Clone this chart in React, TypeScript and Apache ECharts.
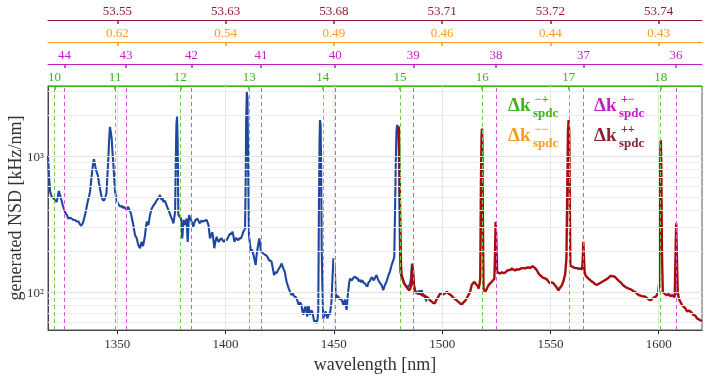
import React, { useEffect, useRef } from "react";
import * as echarts from "echarts";

const X_MIN = 1318;
const X_MAX = 1620;
const Y_MIN = 52.6;
const Y_MAX = 3273;

const xTicks = [1350, 1400, 1450, 1500, 1550, 1600];
const topRedLabels = ["53.55", "53.63", "53.68", "53.71", "53.72", "53.74"];
const topOrangeLabels = ["0.62", "0.54", "0.49", "0.46", "0.44", "0.43"];
const greenWavelengths = [1321.0, 1349.0, 1379.1, 1410.9, 1444.9, 1480.6, 1518.5, 1558.5, 1600.9];
const greenOrders = [10, 11, 12, 13, 14, 15, 16, 17, 18];
const magentaWavelengths = [1325.6, 1354.0, 1384.3, 1416.4, 1450.6, 1486.7, 1524.9, 1565.3, 1608.0];
const magentaOrders = [44, 43, 42, 41, 40, 39, 38, 37, 36];
const majorGridY = [100, 1000];
const minorGridY = [60, 70, 80, 90, 200, 300, 400, 500, 600, 700, 800, 900, 2000, 3000];

const blueWl = [
  1318.0, 1318.5, 1319.0, 1319.7, 1320.5, 1321.2, 1322.0, 1322.5, 1323.0, 1323.5, 1324.0, 1325.0, 1325.8, 1326.6, 1327.4, 1328.2, 1328.9, 1329.7, 1330.5, 1331.2,
  1332.0, 1332.6, 1333.2, 1333.8, 1334.3, 1335.1, 1335.7, 1336.3, 1337.0, 1337.4, 1338.2, 1338.7, 1339.2, 1339.6, 1340.0, 1340.5, 1341.0, 1341.5, 1342.0, 1342.5,
  1343.0, 1343.5, 1344.0, 1344.5, 1345.0, 1345.4, 1345.8, 1346.2, 1346.6, 1347.0, 1347.4, 1347.8, 1348.2, 1348.6, 1349.0, 1349.7, 1350.3, 1350.8, 1351.4, 1352.0,
  1352.6, 1353.2, 1353.8, 1354.3, 1355.0, 1355.6, 1356.3, 1356.9, 1357.4, 1357.8, 1358.2, 1358.6, 1359.0, 1359.4, 1359.7, 1360.1, 1360.5, 1360.9, 1361.3, 1361.7,
  1362.0, 1362.4, 1362.8, 1363.2, 1363.6, 1364.0, 1364.4, 1364.8, 1365.1, 1365.5, 1365.9, 1366.6, 1367.4, 1368.1, 1368.9, 1369.3, 1369.7, 1370.1, 1370.5, 1370.9,
  1371.3, 1371.8, 1372.3, 1373.0, 1373.6, 1374.2, 1374.8, 1375.4, 1375.9, 1376.3, 1376.7, 1377.0, 1377.3, 1377.6, 1377.9, 1378.2, 1378.8, 1379.4, 1380.0, 1380.6,
  1381.3, 1381.7, 1382.0, 1382.5, 1383.1, 1383.6, 1384.0, 1384.6, 1385.1, 1385.6, 1386.2, 1387.0, 1387.6, 1388.1, 1388.8, 1389.6, 1390.4, 1391.3, 1392.1, 1392.8,
  1393.4, 1393.9, 1394.4, 1394.8, 1395.3, 1395.9, 1396.4, 1396.9, 1397.6, 1398.2, 1398.8, 1399.4, 1400.0, 1400.5, 1401.3, 1402.1, 1402.7, 1403.2, 1403.7, 1404.1,
  1404.8, 1405.4, 1405.9, 1406.5, 1407.1, 1407.7, 1408.2, 1408.6, 1409.0, 1409.3, 1409.5, 1409.8, 1410.1, 1410.4, 1410.8, 1411.2, 1411.7, 1412.2, 1412.8, 1413.3,
  1413.9, 1414.3, 1414.8, 1415.2, 1415.6, 1416.0, 1416.3, 1416.9, 1417.4, 1418.2, 1418.9, 1419.5, 1420.0, 1420.6, 1421.2, 1421.8, 1422.4, 1423.0, 1423.6, 1424.2,
  1424.7, 1425.3, 1425.9, 1426.6, 1427.4, 1427.8, 1428.2, 1428.7, 1429.2, 1429.8, 1430.5, 1431.1, 1431.7, 1432.3, 1432.8, 1433.3, 1433.8, 1434.4, 1435.0, 1435.5,
  1435.9, 1436.5, 1437.0, 1437.4, 1437.7, 1438.2, 1438.6, 1439.0, 1439.5, 1440.0, 1440.5, 1441.0, 1441.6, 1442.1, 1442.5, 1442.8, 1443.1, 1443.4, 1443.6, 1443.9,
  1444.1, 1444.4, 1444.7, 1445.1, 1445.6, 1446.2, 1446.7, 1447.1, 1447.6, 1448.1, 1448.5, 1448.9, 1449.4, 1449.8, 1450.2, 1450.5, 1450.8, 1451.1, 1451.6, 1452.1,
  1452.7, 1453.3, 1453.9, 1454.4, 1455.1, 1455.5, 1455.9, 1456.3, 1456.6, 1457.0, 1457.5, 1458.0, 1458.5, 1459.1, 1459.8, 1460.4, 1461.0, 1461.5, 1462.0, 1462.6,
  1463.1, 1463.7, 1464.3, 1464.9, 1465.5, 1466.0, 1466.6, 1467.1, 1467.7, 1468.3, 1468.9, 1469.3, 1469.7, 1470.3, 1470.8, 1471.4, 1472.0, 1472.4, 1472.8, 1473.2,
  1473.5, 1474.2, 1474.8, 1475.3, 1475.9, 1476.4, 1476.9, 1477.4, 1477.9, 1478.2, 1478.6, 1478.9, 1479.2, 1479.5, 1479.8, 1480.1, 1480.4, 1480.7, 1481.2, 1481.6,
  1482.3, 1482.9, 1483.5, 1484.1, 1484.6, 1485.1, 1485.6, 1486.0, 1486.4, 1486.8, 1487.2, 1487.8, 1488.3, 1488.8, 1489.3, 1490.0, 1490.6, 1491.0, 1491.3, 1491.7,
  1492.1, 1492.5, 1492.9,
];
const blueNSD = [
  1000, 700, 545, 502, 490, 475, 460, 500, 553, 520, 488, 424, 389, 370, 347, 352, 347, 340, 338, 330,
  332, 318, 307, 315, 329, 368, 410, 460, 510, 545, 725, 850, 950, 880, 812, 760, 725, 640, 579, 520,
  488, 470, 475, 500, 532, 700, 910, 1300, 1640, 1500, 1350, 1050, 860, 680, 545, 475, 450, 436, 425, 430,
  415, 424, 410, 401, 424, 400, 379, 340, 311, 285, 262, 255, 248, 232, 222, 215, 210, 225, 234, 218,
  222, 240, 262, 300, 329, 315, 312, 345, 368, 390, 412, 430, 448, 470, 488, 500, 517, 495, 475, 490,
  460, 470, 455, 425, 401, 380, 357, 340, 320, 350, 389, 900, 1700, 1950, 1200, 368, 360, 347, 248, 340,
  311, 330, 347, 234, 368, 350, 340, 320, 302, 325, 340, 347, 330, 320, 335, 330, 335, 338, 311, 248,
  265, 275, 240, 210, 235, 255, 240, 234, 245, 248, 238, 234, 245, 240, 255, 270, 265, 278, 255, 234,
  250, 245, 240, 250, 248, 262, 278, 285, 294, 700, 1800, 2960, 2700, 900, 262, 230, 198, 205, 190, 175,
  158, 185, 210, 230, 248, 220, 200, 195, 192, 188, 185, 180, 172, 170, 168, 150, 133, 140, 138, 145,
  149, 155, 162, 150, 140, 128, 119, 112, 106, 100, 95, 97, 93, 92, 90, 85, 80, 84, 81, 72,
  68, 76, 78, 70, 66, 80, 75, 68, 73, 72, 66, 60, 62, 59, 64, 72, 400, 1300, 1840, 1700,
  900, 200, 113, 64, 68, 72, 66, 64, 70, 68, 75, 85, 130, 177, 165, 140, 100, 90, 94, 92,
  88, 90, 85, 80, 88, 80, 74, 90, 100, 115, 126, 122, 123, 128, 130, 126, 126, 120, 123, 118,
  122, 117, 116, 112, 110, 118, 120, 126, 128, 122, 126, 130, 133, 125, 120, 116, 113, 108, 103, 108,
  112, 118, 126, 134, 141, 152, 162, 170, 182, 347, 900, 1500, 1690, 1650, 1600, 900, 300, 141, 130, 128,
  118, 113, 110, 108, 112, 113, 125, 158, 160, 125, 108, 100, 98, 100, 102, 100, 103, 98, 94, 96,
  90, 88, 85,
];

const redWl = [
  1480.0, 1480.3, 1480.6, 1481.0, 1481.3, 1481.8, 1482.2, 1482.6, 1483.1, 1483.6, 1484.1, 1484.7, 1485.2, 1485.7, 1486.0, 1486.3, 1486.6, 1486.9, 1487.3, 1487.8,
  1488.4, 1489.1, 1489.8, 1490.6, 1491.3, 1492.1, 1492.9, 1493.7, 1494.4, 1495.2, 1495.9, 1496.7, 1497.4, 1498.2, 1499.0, 1499.7, 1500.5, 1501.3, 1502.1, 1502.8,
  1503.6, 1504.4, 1505.1, 1505.9, 1506.7, 1507.4, 1508.2, 1509.0, 1509.8, 1510.6, 1511.4, 1512.1, 1512.9, 1513.7, 1514.3, 1514.9, 1515.5, 1516.0, 1516.5, 1516.8,
  1517.2, 1517.6, 1517.9, 1518.2, 1518.4, 1518.6, 1518.8, 1519.1, 1519.5, 1519.8, 1520.4, 1521.0, 1521.4, 1522.2, 1522.9, 1523.5, 1524.1, 1524.4, 1524.7, 1525.0,
  1525.4, 1526.1, 1526.8, 1527.6, 1528.3, 1529.1, 1529.9, 1530.6, 1531.4, 1532.2, 1532.9, 1533.7, 1534.5, 1535.3, 1536.0, 1536.8, 1537.6, 1538.3, 1539.1, 1539.9,
  1540.6, 1541.4, 1542.1, 1542.9, 1543.7, 1544.4, 1545.2, 1546.0, 1546.7, 1547.5, 1548.3, 1549.0, 1549.8, 1550.6, 1551.4, 1552.1, 1552.9, 1553.7, 1554.5, 1555.3,
  1556.0, 1556.8, 1557.4, 1557.8, 1558.1, 1558.4, 1558.7, 1559.0, 1559.2, 1559.9, 1560.7, 1561.5, 1562.3, 1563.1, 1563.8, 1564.6, 1564.9, 1565.2, 1565.5, 1565.8,
  1566.2, 1567.0, 1567.7, 1568.5, 1569.3, 1570.0, 1570.8, 1571.6, 1572.4, 1573.2, 1573.9, 1574.7, 1575.5, 1576.2, 1577.0, 1577.8, 1578.6, 1579.3, 1580.1, 1580.9,
  1581.6, 1582.4, 1583.2, 1583.9, 1584.7, 1585.5, 1586.2, 1587.0, 1587.8, 1588.5, 1589.3, 1590.1, 1590.8, 1591.6, 1592.4, 1593.2, 1593.9, 1594.7, 1595.5, 1596.2,
  1597.0, 1597.7, 1598.5, 1599.2, 1599.8, 1600.2, 1600.5, 1600.8, 1601.0, 1601.2, 1601.5, 1601.9, 1602.5, 1603.1, 1603.9, 1604.6, 1605.4, 1606.2, 1606.8, 1607.4,
  1607.8, 1608.1, 1608.4, 1608.8, 1609.3, 1609.8, 1610.3, 1610.8, 1611.5, 1612.3, 1613.1, 1613.8, 1614.6, 1615.4, 1616.1, 1616.9, 1617.7, 1618.5, 1619.2, 1620.0,
];
const redNSD = [
  1650, 1000, 400, 160, 133, 125, 118, 115, 112, 109, 106, 103, 105, 112, 140, 162, 140, 112, 104, 100,
  98, 97, 98, 95, 94, 93, 92, 90, 87, 85, 83, 83, 88, 92, 97, 98, 96, 98, 100, 98,
  96, 94, 91, 89, 87, 85, 83, 80, 84, 86, 90, 95, 100, 113, 116, 119, 115, 113, 110, 106,
  112, 125, 600, 1400, 1590, 1300, 400, 106, 103, 100, 104, 109, 112, 116, 119, 122, 125, 180, 329, 250,
  141, 138, 137, 140, 138, 139, 143, 145, 145, 149, 146, 144, 147, 146, 148, 150, 150, 149, 151, 152,
  150, 154, 154, 150, 145, 138, 133, 130, 127, 126, 124, 120, 116, 118, 116, 112, 108, 103, 108, 112,
  120, 135, 177, 600, 1500, 1840, 1500, 400, 158, 154, 152, 150, 150, 148, 149, 147, 170, 234, 180, 140,
  133, 128, 125, 122, 119, 117, 114, 113, 115, 117, 119, 121, 123, 125, 128, 132, 130, 131, 128, 124,
  121, 118, 114, 111, 109, 107, 106, 105, 103, 101, 100, 97, 95, 94, 93, 93, 92, 90, 88, 87,
  89, 91, 92, 95, 100, 115, 500, 1150, 1312, 900, 200, 100, 98, 96, 95, 97, 93, 95, 93, 92,
  200, 320, 180, 100, 90, 86, 83, 80, 78, 76, 72, 73, 72, 70, 68, 67, 64, 63, 62, 61,
];

const FONT = '"Liberation Serif", "DejaVu Serif", serif';
const C_DARKRED = "#8c1f30";
const C_ORANGE = "#f99b1c";
const C_MAGENTA = "#c21fc2";
const C_GREEN = "#3fb31a";
const C_BLUE = "#1f47a0";
const C_RED = "#a80d0d";

function pickLabel(values: number[], labels: (string | number)[]) {
  return (v: number) => {
    const i = values.findIndex((w) => Math.abs(w - v) < 1e-6);
    return i >= 0 ? String(labels[i]) : "";
  };
}

function topAxis(color: string, offset: number, values: number[], labels: (string | number)[]) {
  return {
    type: "value",
    position: "top",
    offset,
    min: X_MIN,
    max: X_MAX,
    axisLine: { show: true, onZero: false, lineStyle: { color, width: 1.2 } },
    axisTick: { show: true, inside: true, length: 4, customValues: values, lineStyle: { color, width: 1.5 } },
    axisLabel: {
      show: true,
      customValues: values,
      formatter: pickLabel(values, labels),
      color,
      fontFamily: FONT,
      fontSize: 13,
      margin: 3,
    },
    splitLine: { show: false },
  };
}

export default function App() {
  const ref = useRef<HTMLDivElement>(null);
  useEffect(() => {
    if (!ref.current) return;
    const chart = echarts.init(ref.current, null, { renderer: "svg" });
    const blueData = blueWl.map((w, i) => [w, blueNSD[i]]);
    const redData = redWl.map((w, i) => [w, redNSD[i]]);
    const hLine = (v: number, color: string) => ({ yAxis: v, lineStyle: { color, width: 1, type: "solid" } });
    const vLine = (v: number, color: string, type: any) => ({ xAxis: v, lineStyle: { color, width: 1, type } });

    const legendItems = [
      { x: 508, y: 104, color: C_GREEN, sup: "\u2212+" },
      { x: 594, y: 104, color: C_MAGENTA, sup: "+\u2212" },
      { x: 508, y: 134, color: C_ORANGE, sup: "\u2212\u2212" },
      { x: 594, y: 134, color: C_DARKRED, sup: "++" },
    ];
    const graphics: any[] = [];
    legendItems.forEach((it) => {
      graphics.push({
        type: "text", x: it.x, y: it.y, z: 10,
        style: { text: "\u0394k", fill: it.color, font: `bold 19px ${FONT}`, textVerticalAlign: "middle" },
      });
      graphics.push({
        type: "text", x: it.x + 27, y: it.y - 5, z: 10,
        style: { text: it.sup, fill: it.color, font: `bold 12px ${FONT}`, textVerticalAlign: "middle" },
      });
      graphics.push({
        type: "text", x: it.x + 25, y: it.y + 8, z: 10,
        style: { text: "spdc", fill: it.color, font: `bold 13px ${FONT}`, textVerticalAlign: "middle" },
      });
    });

    chart.setOption({
      animation: false,
      grid: {
        left: 48, right: 6, top: 86, bottom: 48,
        containLabel: false, outerBoundsMode: "none",
        show: true, borderColor: "#555", borderWidth: 1, backgroundColor: "#fff",
      },
      xAxis: [
        {
          type: "value",
          position: "bottom",
          min: X_MIN,
          max: X_MAX,
          axisLine: { show: true, onZero: false, lineStyle: { color: "#444", width: 1 } },
          axisTick: { show: true, length: 4, customValues: xTicks, lineStyle: { color: "#222" } },
          axisLabel: {
            customValues: xTicks,
            formatter: (v: number) => String(Math.round(v)),
            color: "#333", fontFamily: FONT, fontSize: 13, margin: 7,
          },
          splitLine: { show: false },
          name: "wavelength [nm]",
          nameLocation: "middle",
          nameGap: 25,
          nameTextStyle: { fontFamily: FONT, fontSize: 18, color: "#333" },
        },
        topAxis(C_GREEN, 0, greenWavelengths, greenOrders),
        topAxis(C_MAGENTA, 22, magentaWavelengths, magentaOrders),
        topAxis(C_ORANGE, 44, xTicks, topOrangeLabels),
        topAxis(C_DARKRED, 66, xTicks, topRedLabels),
      ],
      yAxis: {
        type: "log",
        logBase: 10,
        min: Y_MIN,
        max: Y_MAX,
        axisLine: { show: true, lineStyle: { color: "#444" } },
        axisTick: { show: false },
        splitLine: { show: false },
        minorSplitLine: { show: false },
        axisLabel: {
          showMinLabel: false,
          showMaxLabel: false,
          color: "#333",
          fontFamily: FONT,
          fontSize: 13,
          margin: 4,
          formatter: (v: number) => {
            const l = Math.log10(v);
            const e = Math.round(l);
            if (Math.abs(l - e) > 1e-6) return "";
            const sup: Record<number, string> = { 1: "\u00b9", 2: "\u00b2", 3: "\u00b3" };
            return "10" + (sup[e] || "");
          },
        },
        name: "generated NSD [kHz/nm]",
        nameLocation: "middle",
        nameGap: 24,
        nameMoveOverlap: false,
        nameTextStyle: { fontFamily: FONT, fontSize: 18, color: "#333" },
      },
      series: [
        {
          name: "grid",
          type: "line",
          data: [],
          z: 1,
          silent: true,
          markLine: {
            silent: true,
            symbol: ["none", "none"],
            label: { show: false },
            data: [
              ...minorGridY.map((v) => hLine(v, "#ededed")),
              ...majorGridY.map((v) => hLine(v, "#e2e2e2")),
              ...xTicks.map((v) => vLine(v, "#e6e6e6", "solid")),
            ],
          },
        },
        {
          name: "blue",
          type: "line",
          data: blueData,
          showSymbol: false,
          z: 2,
          lineStyle: { color: C_BLUE, width: 2.1 },
          itemStyle: { color: C_BLUE },
        },
        {
          name: "red",
          type: "line",
          data: redData,
          showSymbol: false,
          z: 3,
          lineStyle: { color: C_RED, width: 2.4 },
          itemStyle: { color: C_RED },
        },
        {
          name: "resonances",
          type: "line",
          data: [],
          z: 4,
          silent: true,
          markLine: {
            silent: true,
            symbol: ["none", "none"],
            label: { show: false },
            data: [
              ...greenWavelengths.map((v) => vLine(v, "#6ccc44", [4, 3])),
              ...magentaWavelengths.map((v) => vLine(v, "#dd55dd", [4, 3])),
            ],
          },
        },
      ],
      graphic: graphics,
    });
    return () => chart.dispose();
  }, []);
  return <div ref={ref} style={{ position: "fixed", left: 0, top: 0, width: 708, height: 378 }} />;
}
